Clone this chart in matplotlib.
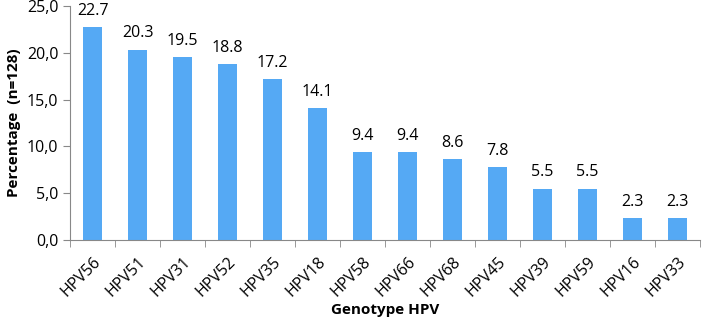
import numpy as np
import matplotlib.pyplot as plt
from matplotlib.ticker import FuncFormatter, FixedLocator

genotypes = ["HPV56", "HPV51", "HPV31", "HPV52", "HPV35", "HPV18", "HPV58",
             "HPV66", "HPV68", "HPV45", "HPV39", "HPV59", "HPV16", "HPV33"]
percent = [22.7, 20.3, 19.5, 18.8, 17.2, 14.1, 9.4, 9.4, 8.6, 7.8, 5.5, 5.5, 2.3, 2.3]

plt.rcParams['font.family'] = ['Open Sans', 'DejaVu Sans']

fig = plt.figure(figsize=(7.09, 3.27), dpi=100)
ax = fig.add_axes([0.099, 0.266, 0.888, 0.716])

x = np.arange(len(genotypes))
bars = ax.bar(x, percent, width=0.42, color='#55a9f4')
for xi, v in zip(x, percent):
    ax.text(xi, v + 0.9, f"{v:.1f}", ha='center', va='bottom', fontsize=11.5)

ax.set_xlim(-0.5, len(genotypes) - 0.5)
ax.set_ylim(0, 25)
ax.set_yticks(np.arange(0, 26, 5))
ax.yaxis.set_major_formatter(FuncFormatter(lambda v, p: f"{v:.1f}".replace('.', ',')))
ax.set_xticks(x)
ax.set_xticklabels(genotypes, rotation=45, ha='right', rotation_mode='anchor', fontsize=11.5)
ax.tick_params(axis='x', length=0, pad=10)
ax.xaxis.set_minor_locator(FixedLocator(np.arange(-0.5, len(genotypes), 1)))
ax.tick_params(axis='x', which='minor', length=5, color='#888888')
ax.tick_params(axis='y', labelsize=11.5, length=5, color='#888888')

for s in ['top', 'right']:
    ax.spines[s].set_visible(False)
for s in ['left', 'bottom']:
    ax.spines[s].set_color('#888888')

ax.set_ylabel("Percentage  (n=128)", fontsize=11, fontweight='bold')
ax.set_xlabel("Genotype HPV", fontsize=11, fontweight='bold', labelpad=2)

fig.savefig("out.png", dpi=100)
